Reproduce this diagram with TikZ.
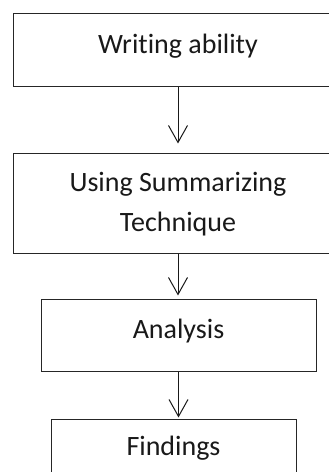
\documentclass[tikz,border=0pt]{standalone}
\usepackage{fontspec}
\setmainfont[Ligatures=NoCommon]{Carlito}
\usetikzlibrary{arrows.meta}
\begin{document}
\begin{tikzpicture}[x=1pt,y=1pt,
  box/.style={draw=black!85, line width=1pt, fill=white, align=center, text=black!90, font=\fontsize{28}{40}\selectfont, inner sep=0pt},
  flow/.style={draw=black!90, line width=1pt, -{Straight Barb[length=17pt,width=19pt,line width=1pt]}}]
\path[fill=white] (0,0) rectangle (329,472);
\clip (0,0) rectangle (329,472);
\useasboundingbox (0,0) rectangle (329,472);
\node[box, minimum width=330pt, minimum height=73pt, text depth=13pt] (b1) at (178,421.5) {Writing ability};
\node[box, minimum width=330pt, minimum height=100pt] (b2) at (178,268) {Using Summarizing\\Technique};
\node[box, minimum width=275pt, minimum height=72pt, text depth=15pt] (b3) at (178.5,136) {Analysis};
\node[box, minimum width=245pt, minimum height=56pt] (b4) at (173.5,24) {Findings};
\draw[flow, shorten >=10pt] (b1.south) -- (b1.south |- b2.north);
\draw[flow, shorten >=4pt] (b2.south) -- (b2.south |- b3.north);
\draw[flow, shorten >=2pt] (b3.south) -- (b3.south |- b4.north);
\end{tikzpicture}
\end{document}
